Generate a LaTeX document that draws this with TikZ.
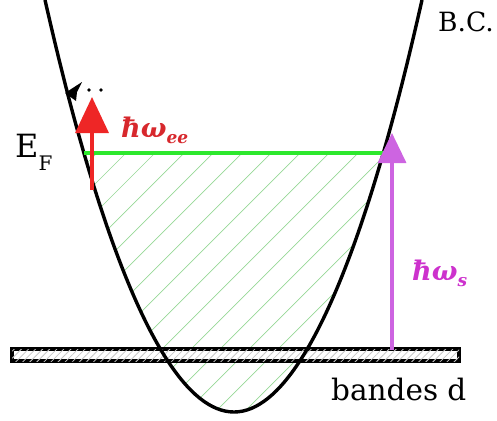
\documentclass[tikz,border=0pt]{standalone}
\usepackage{fontspec}
\setmainfont{DejaVu Serif}
\newfontfamily\labfont{DejaVu Serif}
\usetikzlibrary{arrows.meta,patterns.meta}
\definecolor{redarr}{RGB}{238,38,38}
\definecolor{redlab}{RGB}{215,40,45}
\definecolor{violarr}{RGB}{205,100,225}
\definecolor{violab}{RGB}{205,50,205}
\definecolor{efgreen}{RGB}{45,232,45}
\definecolor{hatchgreen}{RGB}{150,215,150}
\begin{document}
\begin{tikzpicture}[x=1pt,y=-1pt,
  hatch/.style={draw=hatchgreen,line width=0.7pt},
  curve/.style={draw=black,line width=3.4pt},
  bandbox/.style={draw=black,line width=3.2pt,fill=white,
    postaction={pattern={Lines[angle=45,distance=5pt,line width=0.8pt]},pattern color=gray!45}},
  efline/.style={draw=efgreen,line width=3.8pt},
  redarrow/.style={draw=redarr,line width=3.5pt,-{Triangle[length=36pt,width=33pt]}},
  violarrow/.style={draw=violarr,line width=3.5pt,-{Triangle[length=30pt,width=28pt]}},
  lab/.style={inner sep=0pt,anchor=base west},
  hlab/.style={inner sep=0pt,anchor=base west,font=\labfont\bfseries\itshape\fontsize{27}{30}\selectfont}]
\useasboundingbox (0,0) rectangle (497,420);
% hatched occupied states
\begin{scope}
  \clip (45,0) parabola bend (234,412) (422,0) -- cycle;
  \clip (0,153) rectangle (497,420);
  \foreach \i in {-20,...,20} \draw[hatch] (-54+\i*29,420) -- ++(420,-420);
\end{scope}
% d band
\draw[bandbox] (12,349) rectangle (459,361);
% free-electron parabola
\draw[curve] (45,0) parabola bend (234,412) (422,0);
% Fermi level
\coordinate (efl) at (84,153);
\coordinate (efr) at (383,153);
\draw[efline] (efl) -- (efr);
% arrows
\coordinate (rs) at (92,190);
\coordinate (rt) at (92,97);
\draw[redarrow] (rs) -- (rt);
\coordinate (vs) at (392,350);
\coordinate (vt) at (392,133);
\draw[violarrow] (vs) -- (vt);
% small escaping electron
\fill (65,93) -- (82,82) -- (77,92) -- (76,101) -- cycle;
\fill (89,90) circle (1.9);
\fill (101,90) circle (1.9);
% labels
\node[lab] (bc) at (438,32) {\fontsize{26.5}{29}\selectfont B.C.};
\node[lab] (ef) at (15,157) {\fontsize{32}{34}\selectfont E\raisebox{-0.42em}{\fontsize{20}{22}\selectfont F}};
\node[lab] (bd) at (331,400) {\fontsize{29.5}{32}\selectfont bandes d};
\node[hlab,text=redlab] (hee) at (121,137) {ħω\raisebox{-0.25em}{\fontsize{17}{19}\selectfont ee}};
\node[hlab,text=violab] (hs) at (412,280) {ħω\raisebox{-0.25em}{\fontsize{17}{19}\selectfont s}};
\end{tikzpicture}
\end{document}
